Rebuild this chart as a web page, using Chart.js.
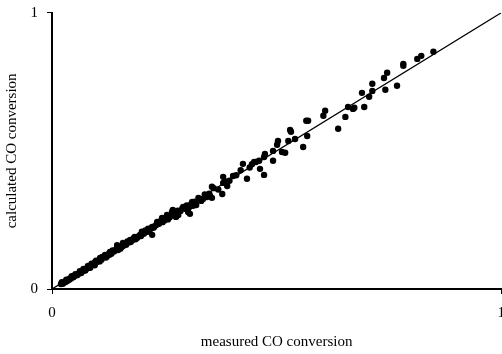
<!DOCTYPE html>
<html>
<head>
<meta charset="utf-8">
<script src="https://cdn.jsdelivr.net/npm/chart.js@4"></script>
<style>
  html, body { margin: 0; padding: 0; background: #fff; overflow: hidden; }
  #wrap { width: 515px; height: 354px; }
</style>
</head>
<body>
<div id="wrap"><canvas id="coChart" width="515" height="354"></canvas></div>
<script>
(function(){
  'use strict';

  // measured vs calculated CO conversion
  const measured = [
    0.849, 0.822, 0.813, 0.782, 0.782, 0.768, 0.746, 0.742, 0.739, 0.713,
    0.713, 0.706, 0.695, 0.690, 0.673, 0.670, 0.659, 0.653, 0.637, 0.608,
    0.604, 0.570, 0.566, 0.568, 0.559, 0.541, 0.532, 0.530, 0.526, 0.519,
    0.512, 0.503, 0.501, 0.492, 0.492, 0.474, 0.472, 0.472, 0.463, 0.461,
    0.454, 0.450, 0.434, 0.425, 0.403, 0.390, 0.381, 0.381, 0.379, 0.356,
    0.356, 0.352, 0.345, 0.336, 0.332, 0.321, 0.314, 0.312, 0.307, 0.303,
    0.296, 0.292, 0.298, 0.281, 0.276, 0.269, 0.267, 0.256, 0.245, 0.234,
    0.223, 0.223, 0.212, 0.200, 0.189, 0.174, 0.158, 0.145, 0.147, 0.129,
    0.118, 0.107, 0.096, 0.089,
    0.020, 0.025, 0.030, 0.034, 0.038, 0.042, 0.046, 0.050, 0.055, 0.060,
    0.064, 0.068, 0.072, 0.078, 0.082, 0.086, 0.092, 0.100, 0.104, 0.110,
    0.115, 0.122, 0.126, 0.132, 0.138, 0.142, 0.150, 0.155, 0.160, 0.165,
    0.170, 0.178, 0.182, 0.186, 0.192, 0.196, 0.204, 0.208, 0.215, 0.220,
    0.228, 0.232, 0.238, 0.242, 0.250, 0.254, 0.262, 0.268, 0.272, 0.280,
    0.286, 0.290, 0.300, 0.305, 0.310, 0.318, 0.326, 0.340, 0.350, 0.360,
    0.370, 0.385, 0.395, 0.410, 0.420, 0.440, 0.445,
    0.022, 0.028, 0.032, 0.036, 0.044, 0.048, 0.052, 0.058, 0.062, 0.066,
    0.070, 0.075, 0.080, 0.084, 0.088, 0.094, 0.098, 0.106, 0.112, 0.120,
    0.128, 0.135, 0.145, 0.152, 0.158, 0.168, 0.175, 0.184, 0.198, 0.206,
    0.214, 0.226, 0.236, 0.246, 0.258, 0.265,
    0.024, 0.031, 0.040, 0.047, 0.056, 0.065, 0.074, 0.085, 0.095
  ];
  const calculated = [
    0.859, 0.844, 0.833, 0.815, 0.808, 0.736, 0.783, 0.721, 0.764, 0.743,
    0.717, 0.696, 0.659, 0.710, 0.656, 0.652, 0.659, 0.623, 0.580, 0.645,
    0.627, 0.609, 0.609, 0.554, 0.514, 0.543, 0.569, 0.576, 0.536, 0.493,
    0.496, 0.536, 0.522, 0.500, 0.464, 0.489, 0.478, 0.413, 0.435, 0.464,
    0.460, 0.460, 0.399, 0.453, 0.409, 0.373, 0.406, 0.384, 0.344, 0.370,
    0.330, 0.337, 0.333, 0.326, 0.319, 0.304, 0.301, 0.315, 0.272, 0.279,
    0.293, 0.297, 0.290, 0.268, 0.261, 0.286, 0.279, 0.268, 0.257, 0.243,
    0.225, 0.196, 0.207, 0.207, 0.185, 0.178, 0.167, 0.159, 0.141, 0.134,
    0.123, 0.112, 0.098, 0.087,
    0.018, 0.022, 0.028, 0.030, 0.036, 0.040, 0.042, 0.048, 0.050, 0.057,
    0.062, 0.066, 0.068, 0.075, 0.080, 0.083, 0.090, 0.098, 0.103, 0.106,
    0.115, 0.118, 0.127, 0.128, 0.136, 0.142, 0.148, 0.152, 0.162, 0.160,
    0.168, 0.176, 0.184, 0.180, 0.190, 0.196, 0.200, 0.212, 0.210, 0.218,
    0.226, 0.232, 0.236, 0.246, 0.248, 0.258, 0.260, 0.270, 0.276, 0.283,
    0.282, 0.292, 0.302, 0.296, 0.308, 0.316, 0.330, 0.342, 0.345, 0.365,
    0.360, 0.390, 0.392, 0.412, 0.430, 0.440, 0.452,
    0.025, 0.024, 0.034, 0.032, 0.046, 0.044, 0.054, 0.054, 0.064, 0.062,
    0.073, 0.071, 0.083, 0.078, 0.092, 0.089, 0.102, 0.100, 0.116, 0.114,
    0.124, 0.140, 0.150, 0.146, 0.156, 0.172, 0.170, 0.188, 0.192, 0.204,
    0.218, 0.222, 0.240, 0.242, 0.252, 0.266,
    0.019, 0.026, 0.035, 0.043, 0.051, 0.058, 0.067, 0.077, 0.086
  ];
  // parity line y = x
  const parityX = [0, 1];
  const parityY = [0, 1];
  const axisTicks = [0, 1];

  const serif = 'Liberation Serif, Times New Roman, serif';
  const points = measured.map((m, i) => ({ x: m, y: calculated[i] }));
  const parity = parityX.map((v, i) => ({ x: v, y: parityY[i] }));

  function scaleOpts(title) {
    return {
      type: 'linear',
      min: axisTicks[0],
      max: axisTicks[axisTicks.length - 1],
      afterBuildTicks: function(scale) {
        scale.ticks = axisTicks.map(v => ({ value: v }));
      },
      border: { display: true, color: '#000', width: 2 },
      grid: {
        display: true,
        drawOnChartArea: false,
        drawTicks: true,
        tickLength: 5,
        color: '#000',
        lineWidth: 1
      },
      ticks: {
        color: '#000',
        font: { family: serif, size: 15 },
        padding: 9,
        maxRotation: 0,
        callback: v => String(v)
      },
      title: {
        display: true,
        text: title,
        color: '#000',
        font: { family: serif, size: 15 },
        padding: { top: 3, bottom: 0 }
      }
    };
  }

  const xScale = scaleOpts('measured CO conversion');
  xScale.ticks.padding = 10;
  xScale.title.padding = { top: 0, bottom: 1 };
  xScale.afterFit = s => { s.height = 63; };

  const yScale = scaleOpts('calculated CO conversion');
  // small line height so the top label overhang stays near the plot top
  yScale.ticks.font = { family: serif, size: 15, lineHeight: 0.5 };
  yScale.afterFit = s => { s.width = 52; };

  new Chart(document.getElementById('coChart').getContext('2d'), {
    type: 'scatter',
    data: {
      datasets: [
        {
          label: 'data',
          data: points,
          backgroundColor: '#000',
          borderColor: '#000',
          pointRadius: 3.2,
          pointBorderWidth: 0
        },
        {
          type: 'line',
          label: 'parity',
          data: parity,
          borderColor: '#000',
          borderWidth: 1.4,
          pointRadius: 0,
          fill: false
        }
      ]
    },
    options: {
      responsive: false,
      animation: false,
      layout: { autoPadding: false, padding: { top: 12, right: 0, bottom: 2, left: 0 } },
      plugins: {
        legend: { display: false },
        tooltip: { enabled: false }
      },
      scales: { x: xScale, y: yScale }
    }
  });
})();
</script>
</body>
</html>
